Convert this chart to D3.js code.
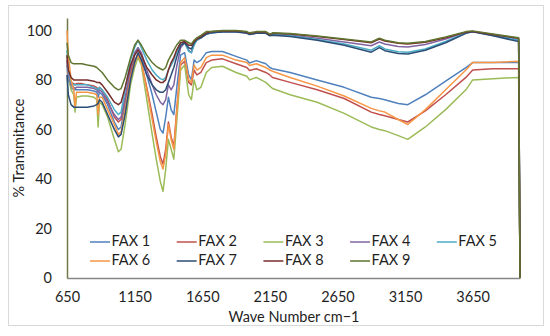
<!DOCTYPE html>
<html lang="en">
<head>
<meta charset="UTF-8">
<script src="https://cdn.jsdelivr.net/npm/d3@7"></script>
<style>
  body { margin: 0; background: #fff; }
  text { font-family: Lato, "Open Sans", sans-serif; fill: #1f1f1f; }
</style>
</head>
<body>
<script>
// wave numbers shared by every series (cm-1)
const waveNumbers = [650, 660, 680, 700, 710, 720, 760, 800, 850, 870, 880, 890, 910, 950, 1000, 1030, 1050, 1080, 1120, 1150, 1175,
  1200, 1240, 1280, 1310, 1340, 1360, 1380, 1400, 1420, 1440, 1460, 1490, 1520, 1550, 1570, 1590, 1610, 1640, 1680, 1720,
  1800, 1900, 1980, 2000, 2050, 2120, 2150, 2170, 2300, 2500, 2700, 2900, 2960, 3000, 3100, 3170, 3300, 3450, 3600, 3650, 3800, 3990, 4000]

// % transmitance
const fax1 = [86, 80, 77, 76, 76, 76, 76, 76, 75.5, 75, 73, 75, 74, 70, 63, 60, 61, 70, 83, 90, 93,
  90, 82, 74, 67, 60, 58.5, 65, 73, 68, 66, 76, 90, 91, 82, 80, 88, 87, 88, 91, 91.5,
  91.5, 89.5, 88, 86.8, 87.8, 86.5, 85, 84.5, 83, 80, 77, 73, 72.5, 72, 70.5, 70, 74, 79.5, 85, 87, 87, 87, 0]
const fax2 = [88, 82, 79, 78.5, 78, 78.5, 78.5, 78, 77.5, 77, 76, 77, 76, 72, 65, 63, 64, 72, 83, 88, 90,
  87, 77, 66, 57, 49, 46, 52, 63, 57, 53, 67, 86, 87.5, 79, 78, 84, 82, 83, 87, 88,
  88.5, 86.5, 85, 83.8, 84.5, 83, 82, 81, 79, 76, 72.5, 67, 66, 65.5, 64, 63, 67.5, 74, 81, 84, 84.5, 84.5, 0]
const fax3 = [90, 82, 76, 74, 67, 73, 73.5, 73.5, 73, 72, 61, 71, 70, 65, 56, 51, 52, 62, 78, 85, 89,
  86, 72, 58, 48, 39, 35, 44, 56, 52, 48, 62, 84, 86, 74, 72, 80, 76, 77, 83, 85,
  85.5, 83, 81.5, 80, 81, 79, 77.5, 76.5, 74, 71, 66.5, 61, 60, 59.5, 57.5, 56, 61, 68, 76, 80, 80.5, 81, 0]
const fax4 = [88, 82, 78, 77, 76.5, 77, 77, 77, 76.5, 76, 75, 76, 75, 71, 66, 64, 65, 73, 85, 91, 93,
  91, 84, 78, 74, 71, 70, 72, 78, 76, 78, 85, 93, 95, 92, 91, 95, 96, 97, 98.5, 99,
  99.5, 99.5, 99, 98.5, 99, 99, 98, 98.5, 98, 96.8, 95.3, 93.8, 95.3, 94.5, 93.5, 93.3, 94.3, 96.5, 99.2, 99.5, 98, 96.3, 0]
const fax5 = [92, 84, 79, 78, 78, 78, 78, 78, 77, 76.5, 76, 77, 76, 73, 68, 66, 67, 76, 88, 93, 96,
  93, 88, 84, 82, 80.5, 80, 81, 84, 86, 88, 91, 95, 95, 91.5, 91, 94, 96, 97, 98.5, 99,
  99.5, 99.5, 99, 98.5, 99, 99, 98, 98.3, 97.8, 96.3, 94.5, 92, 93.8, 92.5, 91.4, 91.2, 92.5, 95.5, 99, 99.5, 98, 96, 0]
const fax6 = [100, 90, 80, 76, 69, 75, 75, 75, 74.5, 74, 66, 73, 73, 68, 62, 58, 59, 68, 81, 87, 90,
  87, 76, 64, 55, 47, 44, 50, 62, 56, 52, 66, 87, 89, 80, 79, 86, 84, 85, 89, 90,
  90, 88, 87, 85.8, 86.5, 85, 84, 83.5, 81, 77.5, 73.5, 68.5, 67.5, 67, 64, 62, 68, 76, 84, 87, 87, 87.5, 0]
const fax7 = [82, 74, 70, 69, 69, 69, 69, 69, 69.5, 70, 70.5, 72, 71, 66, 60, 57, 58, 66, 80, 87, 91,
  88, 82, 78, 76, 75, 75, 76, 79, 82, 85, 89, 94, 95, 93, 92.5, 95, 96.5, 97, 98.5, 99,
  99.3, 99.3, 98.8, 98.3, 98.8, 98.8, 97.8, 98, 97.5, 96, 94, 91.2, 93, 91.8, 90.7, 90.5, 92, 95, 98.8, 99.4, 97.8, 95.5, 0]
const fax8 = [90, 84, 81, 80, 80, 80, 80, 80, 79.5, 79, 79, 79, 78, 75, 71, 70, 71, 77, 86, 90, 92,
  90, 85, 82, 80, 79, 79, 80, 84, 87, 89, 92, 95, 95.5, 94, 94, 95.5, 96.5, 97.5, 99, 99.5,
  99.8, 99.8, 99.3, 98.8, 99.3, 99.3, 98.3, 98.8, 98.5, 97.5, 96.3, 95, 96.5, 95.7, 94.8, 94.5, 95.2, 97, 99.3, 99.6, 98.3, 96.8, 0]
const fax9 = [95, 90, 87, 86.5, 86.5, 86.5, 86.5, 86, 85.5, 85, 84.5, 84, 83, 80, 77, 76, 76.5, 81, 89, 94, 96,
  94, 90, 87, 85.5, 84.5, 84, 85, 88, 90, 92, 94, 96, 96, 95, 94.5, 96, 97, 98, 99.5, 99.5,
  100, 100, 99.5, 99, 99.5, 99.5, 98.5, 99, 98.7, 97.7, 96.5, 95.3, 96.8, 96, 95, 94.8, 95.5, 97.3, 99.5, 99.8, 98.5, 97, 0]

const seriesNames = ["FAX 1", "FAX 2", "FAX 3", "FAX 4", "FAX 5", "FAX 6", "FAX 7", "FAX 8", "FAX 9"]
const seriesValues = [fax1, fax2, fax3, fax4, fax5, fax6, fax7, fax8, fax9]
const colors = ["#4F81BD", "#C0504D", "#9BBB59", "#8064A2", "#4BACC6", "#F79646", "#2C4D75", "#772C2A", "#5F7530"]
const xTicks = [650, 1150, 1650, 2150, 2650, 3150, 3650]
const yTicks = [0, 20, 40, 60, 80, 100]

const width = 550, height = 336
const plotLeft = 67, plotRight = 520, plotTop = 18, plotBottom = 278
const fontSize = 14.5

const svg = d3.select("body").append("svg").attr("width", width).attr("height", height)

// chart frame
svg.append("rect").attr("x", 8.5).attr("y", 5.5).attr("width", 535).attr("height", 320)
  .attr("fill", "#fff").attr("stroke", "#d9d9d9")

const x = d3.scaleLinear().domain([650, 4000]).range([plotLeft, plotRight])
const y = d3.scaleLinear().domain([0, 105]).range([plotBottom, plotTop])

// axes
const xAxis = svg.append("g").attr("transform", `translate(0,${plotBottom})`)
  .call(d3.axisBottom(x).tickValues(xTicks).tickSize(0).tickPadding(14).tickFormat(d3.format("d")))
xAxis.select(".domain").attr("stroke", "#868686").attr("stroke-width", 1.3)
xAxis.selectAll("text").attr("font-size", fontSize).attr("font-family", "Lato")

const yAxis = svg.append("g").attr("transform", `translate(${plotLeft},0)`)
  .call(d3.axisLeft(y).tickValues(yTicks).tickSize(0).tickPadding(15))
yAxis.select(".domain").attr("stroke", "#6f7a4a").attr("stroke-width", 1.5)
yAxis.selectAll("text").attr("font-size", fontSize).attr("font-family", "Lato")

// lines
const line = d3.line().x((d, i) => x(waveNumbers[i])).y(d => y(d))
svg.selectAll(".series")
  .data(seriesValues)
  .enter()
  .append("path")
  .attr("class", "series")
  .attr("d", d => line(d))
  .attr("fill", "none")
  .attr("stroke", (d, i) => colors[i])
  .attr("stroke-width", 1.5)
  .attr("stroke-linejoin", "round")

// axis titles
svg.append("text").attr("x", 294).attr("y", 318).attr("text-anchor", "middle")
  .attr("dominant-baseline", "middle").attr("font-size", fontSize).text("Wave Number cm\u22121")
svg.append("text").attr("transform", "translate(20,148) rotate(-90)").attr("text-anchor", "middle")
  .attr("dominant-baseline", "middle").attr("font-size", fontSize).text("% Transmitance")

// legend
const legend = svg.selectAll(".legend")
  .data(seriesNames)
  .enter()
  .append("g")
  .attr("class", "legend")
  .attr("transform", (d, i) => `translate(${90 + (i % 5) * 86.7},${i < 5 ? 242 : 261})`)
legend.append("line").attr("x1", 0).attr("x2", 20).attr("y1", 0).attr("y2", 0)
  .attr("stroke", (d, i) => colors[i]).attr("stroke-width", 1.5)
legend.append("text").attr("x", 21.5).attr("y", 0).attr("dominant-baseline", "middle")
  .attr("font-size", fontSize).text(d => d)
</script>
</body>
</html>
